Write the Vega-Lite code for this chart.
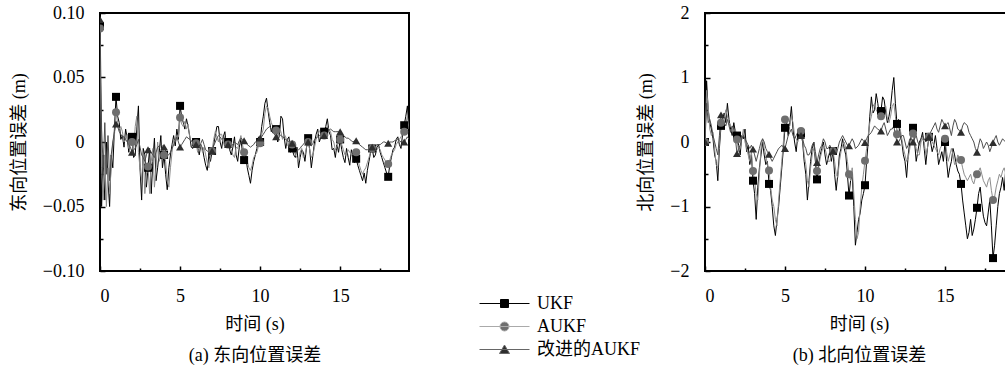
{
  "$schema": "https://vega.github.io/schema/vega-lite/v6.json",
  "padding": {"left": 9, "top": 3, "right": 0, "bottom": 0},
  "background": "white",
  "config": {
    "font": "Liberation Serif, Noto Sans CJK SC",
    "view": {"stroke": null},
    "axis": {"labelFont": "Liberation Serif, Noto Sans CJK SC", "titleFont": "Liberation Serif, Noto Sans CJK SC", "labelFontSize": 18, "titleFontSize": 18, "titleFontWeight": "normal", "labelColor": "black", "titleColor": "black", "grid": false, "domain": false, "tickColor": "black", "tickWidth": 1.5, "labelPadding": 21}
  },
  "datasets": {
    "east": [
      {"t":0,"U":0.09,"A":0.088,"I":0.095},
      {"t":0.1,"U":-0.05,"A":-0.02,"I":0.01},
      {"t":0.2,"U":-0.01,"A":-0.045,"I":-0.02},
      {"t":0.3,"U":-0.045,"A":-0.01,"I":0.015},
      {"t":0.4,"U":0.0,"A":-0.05,"I":-0.025},
      {"t":0.5,"U":-0.03,"A":-0.02,"I":0.005},
      {"t":0.6,"U":-0.05,"A":-0.04,"I":-0.03},
      {"t":0.7,"U":-0.01,"A":-0.02,"I":-0.01},
      {"t":0.8,"U":-0.02,"A":0.0,"I":0.0},
      {"t":0.9,"U":0.01,"A":0.005,"I":0.008},
      {"t":1,"U":0.035,"A":0.023,"I":0.014},
      {"t":1.1,"U":0.02,"A":0.015,"I":0.012},
      {"t":1.2,"U":0.015,"A":0.01,"I":0.008},
      {"t":1.3,"U":0.002,"A":0.012,"I":0.006},
      {"t":1.4,"U":0.005,"A":0.008,"I":0.004},
      {"t":1.5,"U":-0.004,"A":0.0,"I":0.004},
      {"t":1.6,"U":0.01,"A":0.002,"I":0.002},
      {"t":1.7,"U":0.003,"A":0.006,"I":0.0},
      {"t":1.8,"U":-0.008,"A":-0.005,"I":-0.002},
      {"t":1.9,"U":0.006,"A":0.004,"I":-0.004},
      {"t":2,"U":0.004,"A":0.0,"I":-0.008},
      {"t":2.1,"U":-0.012,"A":-0.006,"I":-0.006},
      {"t":2.2,"U":-0.01,"A":0.012,"I":-0.005},
      {"t":2.3,"U":0.01,"A":0.02,"I":-0.002},
      {"t":2.4,"U":0.028,"A":-0.008,"I":0.002},
      {"t":2.5,"U":-0.02,"A":-0.02,"I":-0.004},
      {"t":2.6,"U":-0.045,"A":-0.03,"I":-0.01},
      {"t":2.7,"U":-0.005,"A":-0.01,"I":-0.012},
      {"t":2.8,"U":-0.01,"A":-0.04,"I":-0.015},
      {"t":2.9,"U":-0.035,"A":-0.025,"I":-0.01},
      {"t":3,"U":-0.02,"A":-0.019,"I":-0.006},
      {"t":3.1,"U":-0.005,"A":-0.04,"I":-0.006},
      {"t":3.2,"U":-0.04,"A":-0.015,"I":-0.008},
      {"t":3.3,"U":-0.015,"A":-0.005,"I":-0.01},
      {"t":3.4,"U":0.003,"A":-0.035,"I":-0.012},
      {"t":3.5,"U":-0.03,"A":-0.02,"I":-0.008},
      {"t":3.6,"U":-0.02,"A":0.0,"I":-0.004},
      {"t":3.7,"U":-0.008,"A":-0.015,"I":-0.003},
      {"t":3.8,"U":0.005,"A":-0.01,"I":-0.002},
      {"t":3.9,"U":-0.02,"A":-0.004,"I":-0.003},
      {"t":4,"U":-0.01,"A":-0.01,"I":-0.004},
      {"t":4.1,"U":-0.025,"A":-0.015,"I":-0.007},
      {"t":4.2,"U":-0.037,"A":-0.03,"I":-0.01},
      {"t":4.3,"U":-0.02,"A":-0.035,"I":-0.01},
      {"t":4.4,"U":-0.01,"A":-0.02,"I":-0.008},
      {"t":4.5,"U":-0.002,"A":-0.008,"I":-0.005},
      {"t":4.6,"U":0.005,"A":0.002,"I":-0.002},
      {"t":4.7,"U":-0.003,"A":0.0,"I":0.0},
      {"t":4.8,"U":0.01,"A":0.005,"I":0.004},
      {"t":4.9,"U":0.002,"A":0.004,"I":0.0},
      {"t":5,"U":0.028,"A":0.019,"I":-0.004},
      {"t":5.1,"U":0.02,"A":0.014,"I":-0.002},
      {"t":5.2,"U":0.015,"A":0.012,"I":0.0},
      {"t":5.3,"U":0.01,"A":0.016,"I":0.002},
      {"t":5.4,"U":0.018,"A":0.01,"I":0.004},
      {"t":5.5,"U":0.012,"A":0.014,"I":0.003},
      {"t":5.6,"U":0.005,"A":0.004,"I":0.002},
      {"t":5.7,"U":-0.004,"A":0.0,"I":0.001},
      {"t":5.8,"U":-0.005,"A":0.002,"I":0.0},
      {"t":5.9,"U":0.003,"A":-0.004,"I":-0.001},
      {"t":6,"U":0.0,"A":-0.001,"I":-0.002},
      {"t":6.1,"U":-0.004,"A":-0.008,"I":-0.003},
      {"t":6.2,"U":-0.01,"A":-0.006,"I":-0.004},
      {"t":6.3,"U":-0.002,"A":-0.002,"I":-0.001},
      {"t":6.4,"U":-0.005,"A":-0.008,"I":0.002},
      {"t":6.5,"U":-0.012,"A":-0.004,"I":-0.002},
      {"t":6.6,"U":-0.018,"A":-0.01,"I":-0.006},
      {"t":6.7,"U":-0.022,"A":-0.016,"I":-0.007},
      {"t":6.8,"U":-0.01,"A":-0.02,"I":-0.008},
      {"t":6.9,"U":-0.015,"A":-0.01,"I":-0.008},
      {"t":7,"U":-0.007,"A":-0.007,"I":-0.007},
      {"t":7.1,"U":-0.002,"A":0.002,"I":-0.003},
      {"t":7.2,"U":0.005,"A":0.008,"I":0.0},
      {"t":7.3,"U":0.012,"A":0.004,"I":0.003},
      {"t":7.4,"U":0.012,"A":0.0,"I":0.005},
      {"t":7.5,"U":0.0,"A":0.006,"I":0.004},
      {"t":7.6,"U":-0.005,"A":0.006,"I":0.002},
      {"t":7.7,"U":0.004,"A":0.0,"I":0.003},
      {"t":7.8,"U":0.008,"A":-0.004,"I":0.004},
      {"t":7.9,"U":-0.004,"A":0.002,"I":0.001},
      {"t":8,"U":0.0,"A":-0.002,"I":-0.002},
      {"t":8.1,"U":-0.006,"A":-0.004,"I":-0.002},
      {"t":8.2,"U":-0.01,"A":-0.006,"I":-0.003},
      {"t":8.3,"U":-0.004,"A":-0.01,"I":-0.002},
      {"t":8.4,"U":0.004,"A":-0.012,"I":0.0},
      {"t":8.5,"U":-0.01,"A":-0.004,"I":-0.001},
      {"t":8.6,"U":-0.015,"A":-0.005,"I":-0.002},
      {"t":8.7,"U":-0.004,"A":0.0,"I":0.001},
      {"t":8.8,"U":0.002,"A":0.005,"I":0.003},
      {"t":8.9,"U":-0.008,"A":-0.002,"I":0.002},
      {"t":9,"U":-0.014,"A":-0.008,"I":0.001},
      {"t":9.1,"U":-0.01,"A":-0.012,"I":0.0},
      {"t":9.2,"U":-0.02,"A":-0.015,"I":-0.002},
      {"t":9.3,"U":-0.026,"A":-0.02,"I":-0.003},
      {"t":9.4,"U":-0.032,"A":-0.022,"I":-0.004},
      {"t":9.5,"U":-0.022,"A":-0.018,"I":-0.003},
      {"t":9.6,"U":-0.015,"A":-0.012,"I":-0.002},
      {"t":9.7,"U":-0.01,"A":-0.01,"I":0.0},
      {"t":9.8,"U":-0.005,"A":-0.008,"I":0.001},
      {"t":9.9,"U":0.004,"A":-0.003,"I":0.002},
      {"t":10,"U":0.0,"A":-0.001,"I":0.003},
      {"t":10.1,"U":0.012,"A":0.006,"I":0.004},
      {"t":10.2,"U":0.02,"A":0.01,"I":0.006},
      {"t":10.3,"U":0.03,"A":0.022,"I":0.008},
      {"t":10.4,"U":0.034,"A":0.028,"I":0.01},
      {"t":10.5,"U":0.024,"A":0.026,"I":0.011},
      {"t":10.6,"U":0.015,"A":0.02,"I":0.012},
      {"t":10.7,"U":0.008,"A":0.015,"I":0.01},
      {"t":10.8,"U":0.012,"A":0.012,"I":0.008},
      {"t":10.9,"U":0.006,"A":0.01,"I":0.006},
      {"t":11,"U":0.01,"A":0.009,"I":0.004},
      {"t":11.1,"U":0.0,"A":0.006,"I":0.005},
      {"t":11.2,"U":0.005,"A":0.01,"I":0.006},
      {"t":11.3,"U":0.02,"A":0.008,"I":0.005},
      {"t":11.4,"U":0.018,"A":0.002,"I":0.004},
      {"t":11.5,"U":0.004,"A":0.006,"I":0.003},
      {"t":11.6,"U":-0.005,"A":0.004,"I":0.002},
      {"t":11.7,"U":0.002,"A":-0.002,"I":0.001},
      {"t":11.8,"U":0.004,"A":-0.004,"I":0.0},
      {"t":11.9,"U":-0.008,"A":-0.004,"I":0.0},
      {"t":12,"U":-0.005,"A":-0.002,"I":-0.001},
      {"t":12.1,"U":-0.01,"A":-0.006,"I":-0.002},
      {"t":12.2,"U":-0.012,"A":-0.01,"I":-0.004},
      {"t":12.3,"U":-0.004,"A":-0.012,"I":-0.005},
      {"t":12.4,"U":-0.02,"A":-0.015,"I":-0.006},
      {"t":12.5,"U":-0.012,"A":-0.008,"I":-0.005},
      {"t":12.6,"U":-0.006,"A":-0.005,"I":-0.003},
      {"t":12.7,"U":-0.008,"A":-0.012,"I":-0.002},
      {"t":12.8,"U":-0.015,"A":-0.01,"I":0.0},
      {"t":12.9,"U":-0.004,"A":-0.004,"I":0.0},
      {"t":13,"U":0.003,"A":0.0,"I":0.0},
      {"t":13.1,"U":-0.006,"A":-0.006,"I":-0.002},
      {"t":13.2,"U":-0.02,"A":-0.012,"I":-0.003},
      {"t":13.3,"U":-0.01,"A":-0.01,"I":-0.001},
      {"t":13.4,"U":0.0,"A":-0.004,"I":0.002},
      {"t":13.5,"U":0.006,"A":0.002,"I":0.003},
      {"t":13.6,"U":0.01,"A":0.006,"I":0.004},
      {"t":13.7,"U":0.0,"A":0.008,"I":0.005},
      {"t":13.8,"U":0.004,"A":0.01,"I":0.005},
      {"t":13.9,"U":0.01,"A":0.004,"I":0.005},
      {"t":14,"U":0.008,"A":0.005,"I":0.005},
      {"t":14.1,"U":0.012,"A":0.01,"I":0.007},
      {"t":14.2,"U":0.018,"A":0.012,"I":0.008},
      {"t":14.3,"U":0.008,"A":0.01,"I":0.009},
      {"t":14.4,"U":0.005,"A":0.008,"I":0.01},
      {"t":14.5,"U":-0.006,"A":0.002,"I":0.009},
      {"t":14.6,"U":-0.005,"A":0.0,"I":0.008},
      {"t":14.7,"U":-0.012,"A":-0.006,"I":0.008},
      {"t":14.8,"U":-0.002,"A":-0.004,"I":0.008},
      {"t":14.9,"U":-0.008,"A":0.0,"I":0.008},
      {"t":15,"U":0.002,"A":0.002,"I":0.008},
      {"t":15.1,"U":-0.006,"A":-0.002,"I":0.006},
      {"t":15.2,"U":-0.012,"A":-0.006,"I":0.005},
      {"t":15.3,"U":-0.016,"A":-0.01,"I":0.004},
      {"t":15.4,"U":-0.005,"A":-0.01,"I":0.003},
      {"t":15.5,"U":-0.012,"A":-0.006,"I":0.003},
      {"t":15.6,"U":-0.018,"A":-0.008,"I":0.002},
      {"t":15.7,"U":-0.006,"A":-0.01,"I":0.001},
      {"t":15.8,"U":-0.01,"A":-0.012,"I":0.0},
      {"t":15.9,"U":-0.016,"A":-0.006,"I":0.001},
      {"t":16,"U":-0.013,"A":-0.008,"I":0.001},
      {"t":16.1,"U":-0.018,"A":-0.014,"I":0.0},
      {"t":16.2,"U":-0.022,"A":-0.018,"I":-0.002},
      {"t":16.3,"U":-0.026,"A":-0.022,"I":-0.003},
      {"t":16.4,"U":-0.03,"A":-0.025,"I":-0.004},
      {"t":16.5,"U":-0.024,"A":-0.022,"I":-0.005},
      {"t":16.6,"U":-0.032,"A":-0.02,"I":-0.006},
      {"t":16.7,"U":-0.022,"A":-0.016,"I":-0.006},
      {"t":16.8,"U":-0.015,"A":-0.012,"I":-0.005},
      {"t":16.9,"U":-0.008,"A":-0.008,"I":-0.004},
      {"t":17,"U":-0.005,"A":-0.005,"I":-0.004},
      {"t":17.1,"U":-0.012,"A":-0.006,"I":-0.004},
      {"t":17.2,"U":-0.01,"A":-0.008,"I":-0.003},
      {"t":17.3,"U":-0.004,"A":-0.006,"I":-0.002},
      {"t":17.4,"U":-0.002,"A":-0.004,"I":-0.002},
      {"t":17.5,"U":-0.008,"A":-0.006,"I":-0.002},
      {"t":17.6,"U":-0.012,"A":-0.01,"I":-0.001},
      {"t":17.7,"U":-0.016,"A":-0.012,"I":0.0},
      {"t":17.8,"U":-0.02,"A":-0.014,"I":0.0},
      {"t":17.9,"U":-0.024,"A":-0.016,"I":-0.001},
      {"t":18,"U":-0.027,"A":-0.017,"I":-0.001},
      {"t":18.1,"U":-0.018,"A":-0.014,"I":0.0},
      {"t":18.2,"U":-0.012,"A":-0.01,"I":0.0},
      {"t":18.3,"U":-0.006,"A":-0.008,"I":0.0},
      {"t":18.4,"U":-0.004,"A":-0.006,"I":0.001},
      {"t":18.5,"U":0.002,"A":-0.002,"I":0.001},
      {"t":18.6,"U":0.004,"A":0.0,"I":0.002},
      {"t":18.7,"U":-0.002,"A":0.002,"I":0.001},
      {"t":18.8,"U":-0.005,"A":0.004,"I":0.0},
      {"t":18.9,"U":0.006,"A":0.006,"I":0.0},
      {"t":19,"U":0.013,"A":0.008,"I":0.0},
      {"t":19.1,"U":0.02,"A":0.014,"I":0.002},
      {"t":19.2,"U":0.028,"A":0.02,"I":0.004},
      {"t":19.3,"U":0.01,"A":0.01,"I":0.002}
    ],
    "north": [
      {"t":0,"U":0.0,"A":0.0,"I":0.0},
      {"t":0.1,"U":0.95,"A":0.8,"I":0.6},
      {"t":0.2,"U":0.5,"A":0.55,"I":0.3},
      {"t":0.3,"U":0.3,"A":0.2,"I":0.35},
      {"t":0.4,"U":0.2,"A":0.1,"I":0.25},
      {"t":0.5,"U":0.05,"A":0.15,"I":0.1},
      {"t":0.6,"U":-0.2,"A":-0.1,"I":0.0},
      {"t":0.7,"U":-0.3,"A":-0.35,"I":-0.1},
      {"t":0.8,"U":-0.6,"A":-0.4,"I":-0.2},
      {"t":0.9,"U":-0.1,"A":0.0,"I":0.1},
      {"t":1,"U":0.25,"A":0.3,"I":0.42},
      {"t":1.1,"U":0.35,"A":0.25,"I":0.35},
      {"t":1.2,"U":0.45,"A":0.35,"I":0.3},
      {"t":1.3,"U":0.3,"A":0.5,"I":0.25},
      {"t":1.4,"U":0.6,"A":0.4,"I":0.35},
      {"t":1.5,"U":0.35,"A":0.3,"I":0.25},
      {"t":1.6,"U":0.2,"A":0.25,"I":0.15},
      {"t":1.7,"U":0.1,"A":0.2,"I":0.25},
      {"t":1.8,"U":0.3,"A":0.1,"I":0.2},
      {"t":1.9,"U":0.15,"A":0.2,"I":0.05},
      {"t":2,"U":0.1,"A":0.04,"I":-0.18},
      {"t":2.1,"U":-0.05,"A":-0.15,"I":-0.1},
      {"t":2.2,"U":-0.2,"A":-0.1,"I":-0.05},
      {"t":2.3,"U":0.1,"A":0.05,"I":0.05},
      {"t":2.4,"U":0.05,"A":0.2,"I":0.1},
      {"t":2.5,"U":0.2,"A":0.0,"I":0.05},
      {"t":2.6,"U":-0.15,"A":-0.1,"I":0.0},
      {"t":2.7,"U":-0.05,"A":-0.2,"I":-0.05},
      {"t":2.8,"U":-0.35,"A":-0.3,"I":-0.1},
      {"t":2.9,"U":-0.2,"A":-0.15,"I":-0.05},
      {"t":3,"U":-0.6,"A":-0.45,"I":-0.11},
      {"t":3.1,"U":-0.8,"A":-0.6,"I":-0.2},
      {"t":3.2,"U":-1.2,"A":-0.8,"I":-0.3},
      {"t":3.3,"U":-0.7,"A":-0.9,"I":-0.2},
      {"t":3.4,"U":-0.4,"A":-0.5,"I":-0.1},
      {"t":3.5,"U":-0.2,"A":-0.1,"I":0.0},
      {"t":3.6,"U":0.0,"A":0.05,"I":0.05},
      {"t":3.7,"U":-0.2,"A":-0.1,"I":0.0},
      {"t":3.8,"U":-0.35,"A":-0.2,"I":-0.1},
      {"t":3.9,"U":-0.3,"A":-0.35,"I":-0.15},
      {"t":4,"U":-0.65,"A":-0.44,"I":-0.19},
      {"t":4.1,"U":-0.75,"A":-0.7,"I":-0.25},
      {"t":4.2,"U":-1.0,"A":-0.9,"I":-0.3},
      {"t":4.3,"U":-1.3,"A":-1.0,"I":-0.25},
      {"t":4.4,"U":-1.45,"A":-1.2,"I":-0.2},
      {"t":4.5,"U":-1.2,"A":-1.3,"I":-0.15},
      {"t":4.6,"U":-1.0,"A":-0.9,"I":-0.1},
      {"t":4.7,"U":-0.7,"A":-0.6,"I":-0.08},
      {"t":4.8,"U":-0.4,"A":-0.3,"I":-0.05},
      {"t":4.9,"U":-0.1,"A":0.0,"I":-0.08},
      {"t":5,"U":0.22,"A":0.35,"I":-0.1},
      {"t":5.1,"U":0.3,"A":0.25,"I":0.0},
      {"t":5.2,"U":0.1,"A":0.2,"I":0.1},
      {"t":5.3,"U":0.3,"A":0.25,"I":0.15},
      {"t":5.4,"U":0.55,"A":0.4,"I":0.2},
      {"t":5.5,"U":0.2,"A":0.3,"I":0.1},
      {"t":5.6,"U":0.0,"A":0.1,"I":0.05},
      {"t":5.7,"U":-0.15,"A":0.05,"I":0.1},
      {"t":5.8,"U":0.1,"A":0.0,"I":0.15},
      {"t":5.9,"U":0.2,"A":0.1,"I":0.12},
      {"t":6,"U":0.13,"A":0.17,"I":0.1},
      {"t":6.1,"U":0.0,"A":0.05,"I":0.05},
      {"t":6.2,"U":-0.3,"A":-0.2,"I":-0.05},
      {"t":6.3,"U":-0.5,"A":-0.35,"I":-0.1},
      {"t":6.4,"U":-0.9,"A":-0.6,"I":-0.2},
      {"t":6.5,"U":-0.6,"A":-0.7,"I":-0.2},
      {"t":6.6,"U":-0.3,"A":-0.4,"I":-0.15},
      {"t":6.7,"U":-0.1,"A":-0.2,"I":-0.05},
      {"t":6.8,"U":0.0,"A":-0.1,"I":0.0},
      {"t":6.9,"U":-0.3,"A":-0.2,"I":-0.15},
      {"t":7,"U":-0.58,"A":-0.45,"I":-0.32},
      {"t":7.1,"U":-0.35,"A":-0.4,"I":-0.2},
      {"t":7.2,"U":-0.2,"A":-0.25,"I":-0.1},
      {"t":7.3,"U":-0.1,"A":-0.15,"I":-0.05},
      {"t":7.4,"U":0.0,"A":-0.05,"I":0.05},
      {"t":7.5,"U":-0.2,"A":-0.1,"I":0.0},
      {"t":7.6,"U":-0.35,"A":-0.2,"I":-0.1},
      {"t":7.7,"U":-0.25,"A":-0.3,"I":-0.1},
      {"t":7.8,"U":-0.15,"A":-0.3,"I":-0.05},
      {"t":7.9,"U":-0.3,"A":-0.2,"I":-0.1},
      {"t":8,"U":-0.14,"A":-0.14,"I":-0.14},
      {"t":8.1,"U":-0.5,"A":-0.3,"I":-0.15},
      {"t":8.2,"U":-0.75,"A":-0.5,"I":-0.2},
      {"t":8.3,"U":-0.5,"A":-0.55,"I":-0.1},
      {"t":8.4,"U":-0.2,"A":-0.3,"I":0.0},
      {"t":8.5,"U":-0.1,"A":-0.15,"I":0.05},
      {"t":8.6,"U":0.05,"A":-0.05,"I":0.1},
      {"t":8.7,"U":-0.1,"A":0.0,"I":0.05},
      {"t":8.8,"U":-0.2,"A":-0.1,"I":0.0},
      {"t":8.9,"U":-0.5,"A":-0.3,"I":-0.05},
      {"t":9,"U":-0.83,"A":-0.5,"I":-0.06},
      {"t":9.1,"U":-0.6,"A":-0.6,"I":0.0},
      {"t":9.2,"U":-0.5,"A":-0.4,"I":0.05},
      {"t":9.3,"U":-1.0,"A":-0.8,"I":0.0},
      {"t":9.4,"U":-1.6,"A":-1.2,"I":-0.1},
      {"t":9.5,"U":-1.4,"A":-1.5,"I":-0.08},
      {"t":9.6,"U":-1.2,"A":-1.4,"I":-0.05},
      {"t":9.7,"U":-1.1,"A":-1.0,"I":0.0},
      {"t":9.8,"U":-0.9,"A":-0.7,"I":0.05},
      {"t":9.9,"U":-0.8,"A":-0.5,"I":0.02},
      {"t":10,"U":-0.67,"A":-0.29,"I":-0.01},
      {"t":10.1,"U":-0.3,"A":-0.1,"I":0.05},
      {"t":10.2,"U":0.0,"A":0.1,"I":0.1},
      {"t":10.3,"U":0.4,"A":0.3,"I":0.12},
      {"t":10.4,"U":0.7,"A":0.4,"I":0.15},
      {"t":10.5,"U":0.45,"A":0.55,"I":0.2},
      {"t":10.6,"U":0.5,"A":0.6,"I":0.25},
      {"t":10.7,"U":0.75,"A":0.5,"I":0.22},
      {"t":10.8,"U":0.6,"A":0.45,"I":0.2},
      {"t":10.9,"U":0.4,"A":0.5,"I":0.18},
      {"t":11,"U":0.48,"A":0.4,"I":0.17},
      {"t":11.1,"U":0.7,"A":0.45,"I":0.25},
      {"t":11.2,"U":0.65,"A":0.5,"I":0.3},
      {"t":11.3,"U":0.45,"A":0.55,"I":0.2},
      {"t":11.4,"U":0.3,"A":0.35,"I":0.1},
      {"t":11.5,"U":0.4,"A":0.3,"I":0.15},
      {"t":11.6,"U":0.55,"A":0.4,"I":0.2},
      {"t":11.7,"U":0.8,"A":0.55,"I":0.2},
      {"t":11.8,"U":1.0,"A":0.6,"I":0.25},
      {"t":11.9,"U":0.6,"A":0.4,"I":0.1},
      {"t":12,"U":0.28,"A":0.12,"I":0.0},
      {"t":12.1,"U":0.35,"A":0.25,"I":0.0},
      {"t":12.2,"U":0.1,"A":0.2,"I":0.05},
      {"t":12.3,"U":0.0,"A":0.05,"I":0.1},
      {"t":12.4,"U":-0.2,"A":-0.1,"I":0.1},
      {"t":12.5,"U":-0.3,"A":-0.2,"I":0.0},
      {"t":12.6,"U":-0.55,"A":-0.3,"I":-0.1},
      {"t":12.7,"U":-0.2,"A":-0.25,"I":-0.05},
      {"t":12.8,"U":0.0,"A":-0.1,"I":0.05},
      {"t":12.9,"U":0.1,"A":0.05,"I":0.05},
      {"t":13,"U":0.22,"A":0.13,"I":0.0},
      {"t":13.1,"U":0.0,"A":0.0,"I":0.05},
      {"t":13.2,"U":-0.3,"A":-0.1,"I":0.1},
      {"t":13.3,"U":-0.15,"A":-0.2,"I":0.0},
      {"t":13.4,"U":0.0,"A":-0.2,"I":-0.05},
      {"t":13.5,"U":0.05,"A":0.0,"I":0.05},
      {"t":13.6,"U":0.15,"A":0.05,"I":0.1},
      {"t":13.7,"U":-0.1,"A":0.0,"I":0.05},
      {"t":13.8,"U":-0.35,"A":-0.2,"I":0.0},
      {"t":13.9,"U":-0.1,"A":-0.1,"I":0.05},
      {"t":14,"U":0.08,"A":0.08,"I":0.08},
      {"t":14.1,"U":0.0,"A":0.05,"I":0.15},
      {"t":14.2,"U":-0.15,"A":0.0,"I":0.2},
      {"t":14.3,"U":-0.05,"A":-0.05,"I":0.25},
      {"t":14.4,"U":0.1,"A":-0.1,"I":0.3},
      {"t":14.5,"U":-0.1,"A":-0.15,"I":0.2},
      {"t":14.6,"U":-0.35,"A":-0.2,"I":0.15},
      {"t":14.7,"U":-0.25,"A":-0.1,"I":0.25},
      {"t":14.8,"U":-0.15,"A":-0.05,"I":0.35},
      {"t":14.9,"U":-0.3,"A":0.0,"I":0.3},
      {"t":15,"U":0.0,"A":0.05,"I":0.25},
      {"t":15.1,"U":-0.3,"A":-0.15,"I":0.28},
      {"t":15.2,"U":-0.55,"A":-0.3,"I":0.3},
      {"t":15.3,"U":-0.4,"A":-0.2,"I":0.2},
      {"t":15.4,"U":-0.3,"A":-0.1,"I":0.1},
      {"t":15.5,"U":-0.1,"A":-0.2,"I":0.25},
      {"t":15.6,"U":-0.2,"A":-0.35,"I":0.35},
      {"t":15.7,"U":-0.35,"A":-0.3,"I":0.3},
      {"t":15.8,"U":-0.45,"A":-0.2,"I":0.2},
      {"t":15.9,"U":-0.5,"A":-0.25,"I":0.18},
      {"t":16,"U":-0.65,"A":-0.28,"I":0.15},
      {"t":16.1,"U":-0.9,"A":-0.4,"I":0.25},
      {"t":16.2,"U":-1.1,"A":-0.5,"I":0.3},
      {"t":16.3,"U":-1.3,"A":-0.55,"I":0.28},
      {"t":16.4,"U":-1.5,"A":-0.6,"I":0.25},
      {"t":16.5,"U":-1.4,"A":-0.55,"I":0.15},
      {"t":16.6,"U":-1.2,"A":-0.5,"I":0.1},
      {"t":16.7,"U":-1.45,"A":-0.6,"I":0.05},
      {"t":16.8,"U":-1.35,"A":-0.65,"I":0.0},
      {"t":16.9,"U":-1.2,"A":-0.55,"I":-0.1},
      {"t":17,"U":-1.02,"A":-0.5,"I":-0.16},
      {"t":17.1,"U":-0.8,"A":-0.45,"I":-0.05},
      {"t":17.2,"U":-0.7,"A":-0.4,"I":0.05},
      {"t":17.3,"U":-0.95,"A":-0.5,"I":0.0},
      {"t":17.4,"U":-1.15,"A":-0.6,"I":-0.1},
      {"t":17.5,"U":-1.25,"A":-0.65,"I":-0.05},
      {"t":17.6,"U":-1.3,"A":-0.7,"I":0.0},
      {"t":17.7,"U":-1.1,"A":-0.6,"I":-0.05},
      {"t":17.8,"U":-0.9,"A":-0.55,"I":-0.15},
      {"t":17.9,"U":-1.3,"A":-0.75,"I":-0.08},
      {"t":18,"U":-1.8,"A":-0.9,"I":-0.01},
      {"t":18.1,"U":-1.6,"A":-0.85,"I":0.05},
      {"t":18.2,"U":-1.3,"A":-0.7,"I":0.1},
      {"t":18.3,"U":-1.0,"A":-0.6,"I":0.0},
      {"t":18.4,"U":-0.8,"A":-0.5,"I":-0.05},
      {"t":18.5,"U":-0.7,"A":-0.55,"I":0.0},
      {"t":18.6,"U":-0.55,"A":-0.45,"I":0.05},
      {"t":18.7,"U":-0.75,"A":-0.4,"I":0.02},
      {"t":18.8,"U":-0.4,"A":-0.5,"I":0.0},
      {"t":18.9,"U":-0.5,"A":-0.45,"I":0.03},
      {"t":19,"U":-0.3,"A":-0.4,"I":0.05}
    ]
  },
  "bounds": "flush",
  "spacing": 296,
  "hconcat": [
    {
      "width": 309,
      "height": 258,
      "view": {"stroke": "black", "strokeWidth": 2},
      "data": {"name": "east"},
      "transform": [{"fold": ["U", "A", "I"], "as": ["s", "v"]}],
      "encoding": {
        "x": {"field": "t", "type": "quantitative", "scale": {"domain": [0, 19.3], "nice": false, "zero": false},
          "axis": {"title": ["时间 (s)", "(a) 东向位置误差"], "titleLineHeight": 31, "values": [0, 2.5, 5, 7.5, 10, 12.5, 15, 17.5],
            "labelExpr": "datum.value % 5 === 0 ? datum.label : ''",
            "tickSize": {"condition": {"test": "datum.value % 5 === 0", "value": -5}, "value": -3},
            "titlePadding": 10}},
        "y": {"field": "v", "type": "quantitative", "scale": {"domain": [-0.1, 0.1], "nice": false, "zero": false},
          "axis": {"title": "东向位置误差 (m)", "values": [-0.1, -0.075, -0.05, -0.025, 0, 0.025, 0.05, 0.075, 0.1],
            "labelExpr": "abs(round(datum.value*40)) % 2 === 1 ? '' : (datum.value === 0 ? '0' : format(datum.value, '.2f'))",
            "tickSize": {"condition": {"test": "abs(round(datum.value*40)) % 2 === 1", "value": -3}, "value": -5},
            "titlePadding": 14}}
      },
      "layer": [
        {"mark": {"type": "line", "strokeWidth": 1, "clip": true},
         "encoding": {"stroke": {"field": "s", "type": "nominal", "scale": {"domain": ["U", "A", "I"], "range": ["#000000", "#8c8c8c", "#4d4d4d"]}, "legend": null}}},
        {"transform": [{"filter": "datum.t % 1 === 0"}],
         "mark": {"type": "point", "filled": true, "opacity": 1, "size": 64, "clip": true},
         "encoding": {
           "shape": {"field": "s", "type": "nominal", "scale": {"domain": ["U", "A", "I"], "range": ["square", "circle", "triangle-up"]}, "legend": null},
           "fill": {"field": "s", "type": "nominal", "scale": {"domain": ["U", "A", "I"], "range": ["#000000", "#6e6e6e", "#2e2e2e"]}, "legend": null}}},
        {"transform": [{"filter": "false"}],
         "mark": {"type": "point", "filled": true, "opacity": 1},
         "encoding": {
           "shape": {"field": "s", "type": "nominal", "scale": {"domain": ["U", "A", "I"], "range": ["M-2.5,0H2.5M-0.4,-0.4H0.4V0.4H-0.4Z", "M-2.5,0H2.5M0.45,0A0.45,0.45,0,1,1,-0.45,0A0.45,0.45,0,1,1,0.45,0Z", "M-2.5,0H2.5M0,-0.45L0.5,0.4H-0.5Z"]},
             "legend": {"orient": "none", "legendX": 394, "legendY": 280, "title": null, "symbolSize": 400, "symbolStrokeWidth": 1, "labelOffset": 22, "rowPadding": 3, "labelFontSize": 18, "labelFont": "Liberation Serif, Noto Sans CJK SC", "labelColor": "black", "labelLimit": 400, "labelExpr": "datum.value === 'U' ? 'UKF' : datum.value === 'A' ? 'AUKF' : '改进的AUKF'"}},
           "fill": {"field": "s", "type": "nominal", "scale": {"domain": ["U", "A", "I"], "range": ["#000000", "#6e6e6e", "#2e2e2e"]},
             "legend": {"orient": "none", "legendX": 394, "legendY": 280, "title": null, "symbolSize": 400, "symbolStrokeWidth": 1, "labelOffset": 22, "rowPadding": 3, "labelFontSize": 18, "labelFont": "Liberation Serif, Noto Sans CJK SC", "labelColor": "black", "labelLimit": 400, "labelExpr": "datum.value === 'U' ? 'UKF' : datum.value === 'A' ? 'AUKF' : '改进的AUKF'"}},
           "stroke": {"field": "s", "type": "nominal", "scale": {"domain": ["U", "A", "I"], "range": ["#000000", "#aaaaaa", "#666666"]},
             "legend": {"orient": "none", "legendX": 394, "legendY": 280, "title": null, "symbolSize": 400, "symbolStrokeWidth": 1, "labelOffset": 22, "rowPadding": 3, "labelFontSize": 18, "labelFont": "Liberation Serif, Noto Sans CJK SC", "labelColor": "black", "labelLimit": 400, "labelExpr": "datum.value === 'U' ? 'UKF' : datum.value === 'A' ? 'AUKF' : '改进的AUKF'"}}}}
      ],
      "resolve": {"scale": {"shape": "independent", "fill": "independent", "stroke": "independent"}}
    },
    {
      "width": 300,
      "height": 258,
      "view": {"stroke": "black", "strokeWidth": 2, "strokeDash": [300, 258, 558]},
      "data": {"name": "north"},
      "transform": [{"fold": ["U", "A", "I"], "as": ["s", "v"]}],
      "encoding": {
        "x": {"field": "t", "type": "quantitative", "scale": {"domain": [0, 18.75], "nice": false, "zero": false},
          "axis": {"title": ["时间 (s)", "(b) 北向位置误差"], "titleLineHeight": 31, "titleX": 154, "values": [0, 2.5, 5, 7.5, 10, 12.5, 15, 17.5],
            "labelExpr": "datum.value % 5 === 0 ? datum.label : ''",
            "tickSize": {"condition": {"test": "datum.value % 5 === 0", "value": -5}, "value": -3},
            "titlePadding": 10}},
        "y": {"field": "v", "type": "quantitative", "scale": {"domain": [-2, 2], "nice": false, "zero": false},
          "axis": {"title": "北向位置误差 (m)", "values": [-2, -1.5, -1, -0.5, 0, 0.5, 1, 1.5, 2],
            "labelExpr": "datum.value % 1 === 0 ? format(datum.value, 'd') : ''",
            "tickSize": {"condition": {"test": "datum.value % 1 !== 0", "value": -3}, "value": -5},
            "titlePadding": 14}}
      },
      "layer": [
        {"mark": {"type": "line", "strokeWidth": 1, "clip": true},
         "encoding": {"stroke": {"field": "s", "type": "nominal", "scale": {"domain": ["U", "A", "I"], "range": ["#000000", "#8c8c8c", "#4d4d4d"]}, "legend": null}}},
        {"transform": [{"filter": "datum.t % 1 === 0"}],
         "mark": {"type": "point", "filled": true, "opacity": 1, "size": 64, "clip": true},
         "encoding": {
           "shape": {"field": "s", "type": "nominal", "scale": {"domain": ["U", "A", "I"], "range": ["square", "circle", "triangle-up"]}, "legend": null},
           "fill": {"field": "s", "type": "nominal", "scale": {"domain": ["U", "A", "I"], "range": ["#000000", "#6e6e6e", "#2e2e2e"]}, "legend": null}}}
      ]
    }
  ]
}
